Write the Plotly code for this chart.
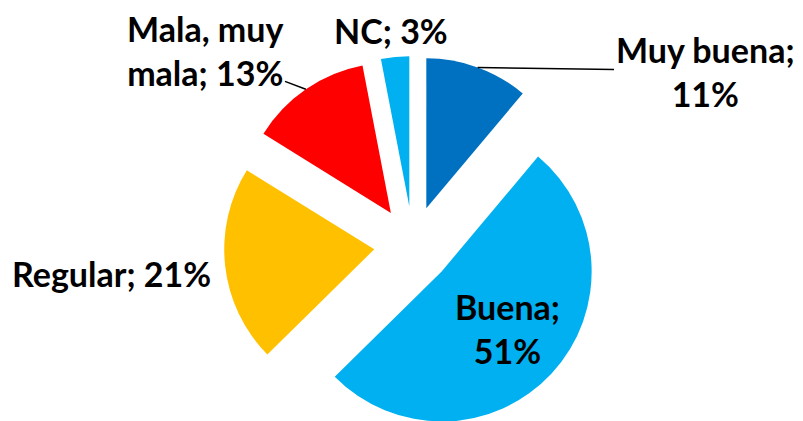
import math
import plotly.graph_objects as go

# ---- data ----
categories = ["Muy buena", "Buena", "Regular", "Mala, muy mala", "NC"]
values = [11, 51, 21, 13, 3]
display_names = ["Muy buena", "Buena", "Regular", "Mala, muy<br>mala", "NC"]
separators = [";<br>", ";<br>", "; ", "; ", "; "]
colors = ["#0070C0", "#00B0F0", "#FFC000", "#FF0000", "#00B0F0"]

# ---- layout geometry (screen pixels) ----
W, H = 803, 421
OFF = 8                # page body margin
CX, CY = 413, 245      # centre of the un-exploded pie
R = 150                # pie radius
EXPLODE = 39           # explosion distance of every slice
label_centers = [(705, 71), (507, 328), (111, 273), (205, 51), (391, 31)]
leader = [True, False, False, True, False]
FONT = dict(family="Lato", size=34, color="black", weight="bold")


def fx(px):
    return (px - OFF) / W


def fy(py):
    return 1 - (py - OFF) / H


total = sum(values)
fig = go.Figure()
annotations = []
cum = 0.0
for k, v in enumerate(values):
    a0 = cum / total * 2 * math.pi
    cum += v
    a1 = cum / total * 2 * math.pi
    mid = (a0 + a1) / 2
    sx = CX + EXPLODE * math.sin(mid)
    sy = CY - EXPLODE * math.cos(mid)
    x0 = max(0.0, fx(sx - R))
    x1 = min(1.0, fx(sx + R))
    y0 = max(0.0, fy(sy + R))
    y1 = min(1.0, fy(sy - R))
    cols = ["rgba(0,0,0,0)"] * len(values)
    cols[k] = colors[k]
    fig.add_trace(go.Pie(
        labels=categories, values=values, sort=False, direction="clockwise",
        rotation=0, marker=dict(colors=cols, line=dict(width=0)),
        textinfo="none", hoverinfo="skip", showlegend=False,
        domain=dict(x=[x0, x1], y=[y0, y1]),
    ))
    text = f"{display_names[k]}{separators[k]}{v}%"
    lx, ly = label_centers[k]
    if leader[k]:
        tx = sx + R * math.sin(mid)
        ty = sy - R * math.cos(mid)
        annotations.append(dict(
            x=fx(tx), y=fy(ty), xref="paper", yref="paper",
            text=text, showarrow=True, arrowhead=0, arrowwidth=1.5,
            arrowcolor="black", ax=lx - tx, ay=ly - ty, standoff=0,
            font=FONT,
        ))
    else:
        annotations.append(dict(
            x=fx(lx), y=fy(ly), xref="paper", yref="paper",
            xanchor="center", yanchor="middle",
            text=text, showarrow=False, font=FONT,
        ))

fig.update_layout(
    width=W, height=H, margin=dict(l=0, r=0, t=0, b=0),
    paper_bgcolor="white", plot_bgcolor="white",
    annotations=annotations,
)
fig.write_html("out.html")
